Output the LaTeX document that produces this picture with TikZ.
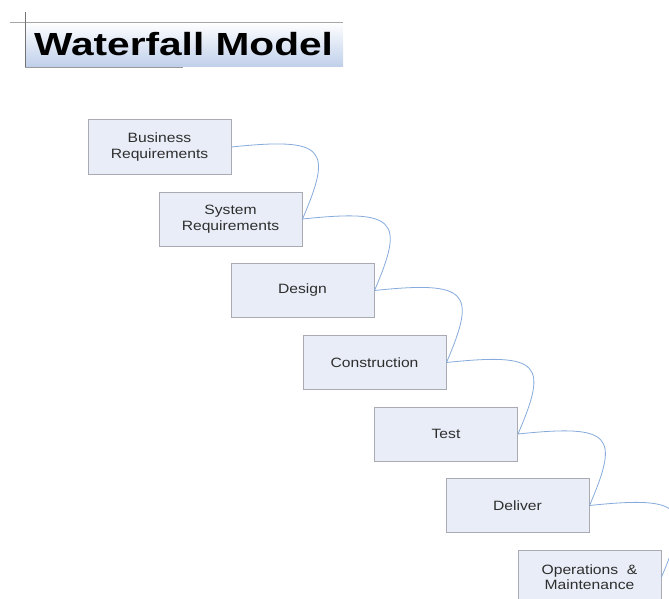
\documentclass[tikz,border=0pt]{standalone}
\usepackage{fontspec}
\setmainfont{Liberation Sans}
\newfontfamily\boxfont{Liberation Sans}[FakeStretch=1.16]
\newfontfamily\titlefont{Liberation Sans}[FakeStretch=1.27,BoldFont={Liberation Sans Bold}]
\definecolor{boxfill}{HTML}{E9EDF7}
\definecolor{boxdraw}{HTML}{A9AAB2}
\definecolor{linkc}{HTML}{85AADB}
\definecolor{textc}{HTML}{2E2E2E}
\definecolor{titlebot}{HTML}{BFCFEA}
\tikzset{
  stage/.style={draw=boxdraw, line width=1pt, fill=boxfill, minimum width=143pt, minimum height=54pt,
    inner sep=0pt, align=center, text=textc, font=\boxfont\fontsize{13.5}{15.5}\selectfont},
  link/.style={draw=linkc, line width=0.8pt},
}
\begin{document}
\begin{tikzpicture}[x=1pt,y=-1pt]
\useasboundingbox (0,0) rectangle (669,599);
\clip (0,0) rectangle (669,599);
% title
\shade[top color=white, bottom color=titlebot] (25,22) rectangle (343,67);
\draw[draw=gray!70, line width=0.8pt] (10,22) -- (343,22);
\draw[draw=gray!90!black, line width=0.8pt] (25,12) -- (25,67);
\draw[draw=gray!80, line width=0.8pt] (25,67) -- (183,67);
\node[font=\titlefont\bfseries\fontsize{32}{36}\selectfont, inner sep=0pt, anchor=west] (title) at (34,44) {Waterfall Model};
% stages
\node[stage] (s1) at (159.5,147) {Business\\Requirements};
\node[stage] (s2) at (230.5,219) {System\\Requirements};
\node[stage] (s3) at (302.5,290.5) {Design};
\node[stage] (s4) at (374.5,362.5) {Construction};
\node[stage] (s5) at (446,434) {Test};
\node[stage] (s6) at (517.5,505.5) {Deliver};
\node[stage] (s7) at (589.5,577) {Operations \ \&\\Maintenance};
% connectors
\foreach \a/\b in {s1/s2,s2/s3,s3/s4,s4/s5,s5/s6,s6/s7}{
  \draw[link] (\a.east) .. controls +(95,-10) and +(30,-70) .. (\b.east);
}
\end{tikzpicture}
\end{document}
